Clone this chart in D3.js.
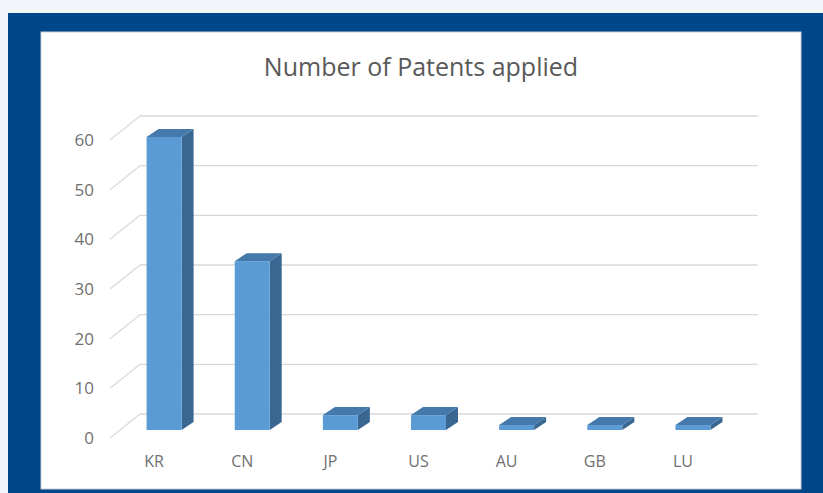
<!DOCTYPE html>
<html>
<head>
<meta charset="utf-8">
<script src="https://cdn.jsdelivr.net/npm/d3@7"></script>
<style>
  body { margin: 0; background: #f3f5fa; }
  svg { display: block; }
</style>
</head>
<body>
<svg id="chart" width="823" height="493"></svg>
<script>
// chart data
const countries = ["KR", "CN", "JP", "US", "AU", "GB", "LU"];
const patents = [59, 34, 3, 3, 1, 1, 1];
const yTicks = [0, 10, 20, 30, 40, 50, 60];
const chartTitle = "Number of Patents applied";

const svg = d3.select("#chart");
const font = "'Open Sans', sans-serif";

// outer blue frame + white chart area
svg.append("rect").attr("x", 8).attr("y", 13).attr("width", 815).attr("height", 480).attr("fill", "#00478a");
svg.append("rect").attr("x", 41).attr("y", 32).attr("width", 760).attr("height", 457)
  .attr("fill", "#fff").attr("stroke", "#c8cdd6").attr("stroke-width", 1);

svg.append("text")
  .attr("x", 421).attr("y", 76)
  .attr("text-anchor", "middle")
  .attr("font-family", font).attr("font-size", 25)
  .attr("fill", "#595959")
  .text(chartTitle);

// 3d offsets: back wall and bar placement inside the depth
const wall = { dx: 30, dy: -24 };
const barOff = { dx: 10, dy: -8 };
const barDepth = { dx: 12, dy: -8 };
const barW = 35;

const x = d3.scaleBand().domain(countries).range([110, 727]);
const y = d3.scaleLinear().domain([0, 60]).range([438, 140]);

const grid = svg.append("g").attr("stroke", "#d9d9d9").attr("stroke-width", 1.3).attr("fill", "none");
yTicks.forEach(v => {
  grid.append("line")
    .attr("x1", x.range()[0] + wall.dx).attr("x2", x.range()[1] + wall.dx + 1)
    .attr("y1", y(v) + wall.dy).attr("y2", y(v) + wall.dy);
  grid.append("line")
    .attr("x1", x.range()[0]).attr("y1", y(v))
    .attr("x2", x.range()[0] + wall.dx).attr("y2", y(v) + wall.dy);
});

svg.append("g").selectAll("text").data(yTicks).join("text")
  .attr("x", 94).attr("y", d => y(d) + 6)
  .attr("text-anchor", "end")
  .attr("font-family", font).attr("font-size", 17)
  .attr("fill", "#707070")
  .text(d => d);

// bars: front, top, side faces
const bars = svg.append("g").selectAll("g").data(countries).join("g");
bars.each(function(c, i) {
  const g = d3.select(this);
  const x0 = x(c) + x.bandwidth() / 2 - barW / 2 + barOff.dx;
  const x1 = x0 + barW;
  const yb = y(0) + barOff.dy;
  const yt = y(patents[i]) + barOff.dy;
  const dx = barDepth.dx, dy = barDepth.dy;
  g.append("path")
    .attr("d", `M${x1},${yb}L${x1 + dx},${yb + dy}L${x1 + dx},${yt + dy}L${x1},${yt}Z`)
    .attr("fill", "#3a6791");
  g.append("path")
    .attr("d", `M${x0},${yt}L${x0 + dx},${yt + dy}L${x1 + dx},${yt + dy}L${x1},${yt}Z`)
    .attr("fill", "#4578ab");
  g.append("rect")
    .attr("x", x0).attr("y", yt).attr("width", barW).attr("height", yb - yt)
    .attr("fill", "#5b9bd5");
});

svg.append("g").selectAll("text").data(countries).join("text")
  .attr("x", d => x(d) + x.bandwidth() / 2)
  .attr("y", 467)
  .attr("text-anchor", "middle")
  .attr("font-family", font).attr("font-size", 16)
  .attr("fill", "#707070")
  .text(d => d);
</script>
</body>
</html>
